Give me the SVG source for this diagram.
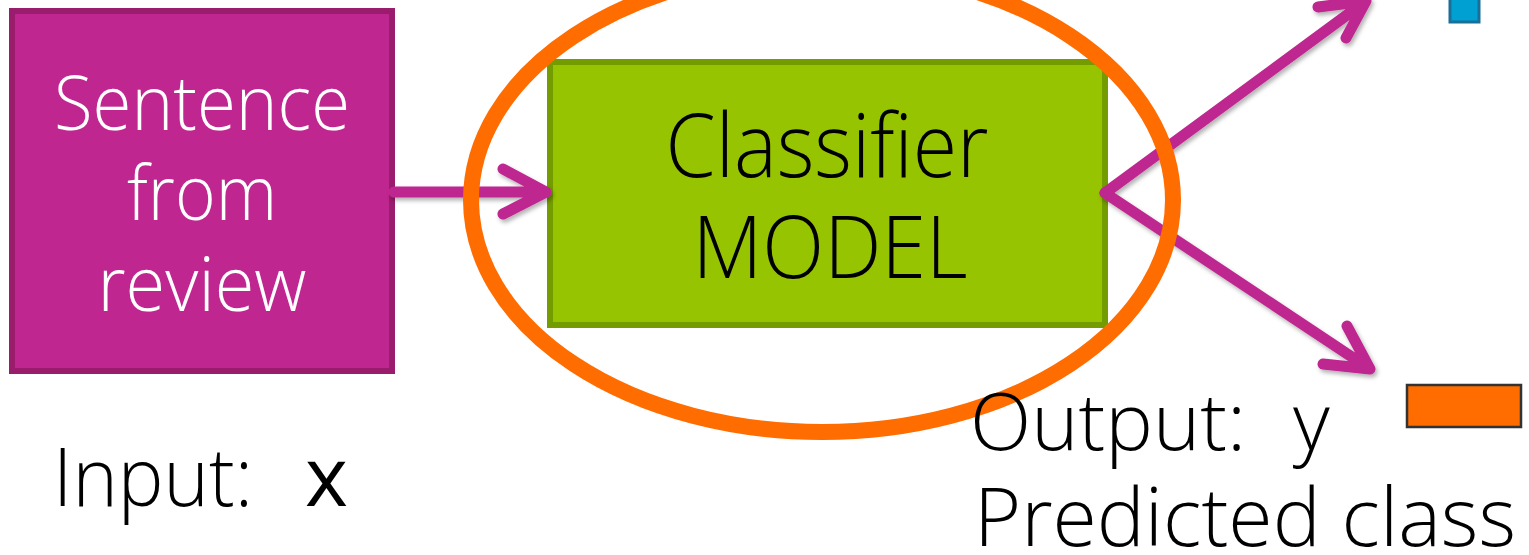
<svg xmlns="http://www.w3.org/2000/svg" width="1529" height="555" viewBox="0 0 1529 555">
<style>
.lbl{font-family:"Open Sans","Noto Sans","Liberation Sans",sans-serif;font-weight:300;}
.wh{fill:#ffffff;}
.bk{fill:#000000;}
.conn{fill:none;stroke:#BE2690;stroke-width:11;stroke-linecap:round;stroke-linejoin:round;}
</style>
<defs>
<filter id="sh" x="-10%" y="-10%" width="120%" height="120%">
<feDropShadow dx="2" dy="3" stdDeviation="2" flood-color="#000" flood-opacity="0.3"/>
</filter>
</defs>
<rect width="1529" height="555" fill="#ffffff"/>

<g id="node-sentence">
<rect x="12" y="11" width="380" height="360" fill="#C0268F" stroke="#9A1C6C" stroke-width="6"/>
<text class="lbl wh" x="202" y="130" font-size="76" text-anchor="middle" textLength="296" lengthAdjust="spacingAndGlyphs">Sentence</text>
<text class="lbl wh" x="202" y="220" font-size="76" text-anchor="middle" textLength="150" lengthAdjust="spacingAndGlyphs">from</text>
<text class="lbl wh" x="202" y="311" font-size="76" text-anchor="middle" textLength="209" lengthAdjust="spacingAndGlyphs">review</text>
</g>

<g id="node-classifier">
<rect x="550" y="62" width="555" height="263" fill="#97C400" stroke="#739C00" stroke-width="6"/>
<text class="lbl bk" x="827" y="177" font-size="88" text-anchor="middle" textLength="323" lengthAdjust="spacingAndGlyphs">Classifier</text>
<text class="lbl bk" x="830" y="278" font-size="86" text-anchor="middle" textLength="275" lengthAdjust="spacingAndGlyphs">MODEL</text>
</g>

<g id="node-class-blue">
<rect x="1450" y="-10" width="29" height="32" fill="#00A0D2" stroke="#1B6E98" stroke-width="3"/>
</g>

<g id="node-class-orange">
<rect x="1407" y="385" width="114" height="42" fill="#FF6C00" stroke="#333333" stroke-width="2.5"/>
</g>

<g id="connectors" filter="url(#sh)">
<path class="conn" d="M394,192 L545,192 M503,169 L546,192 L503,214"/>
<path class="conn" d="M1105,193 L1366,1 M1318,7 L1366,1 L1346,38"/>
<path class="conn" d="M1105,193 L1370,369 M1323,364 L1370,369 L1347,326"/>
</g>

<g id="highlight">
<ellipse cx="822" cy="200" rx="351" ry="232" fill="none" stroke="#FF6C00" stroke-width="16"/>
</g>

<g id="label-input">
<text class="lbl bk" x="53" y="506" font-size="82"><tspan textLength="200" lengthAdjust="spacingAndGlyphs">Input:</tspan><tspan x="305" font-weight="400">x</tspan></text>
</g>

<g id="label-output">
<text class="lbl bk" x="970" y="450" font-size="80"><tspan textLength="276" lengthAdjust="spacingAndGlyphs">Output:</tspan><tspan x="1293">y</tspan></text>
<text class="lbl bk" x="974" y="546" font-size="82" textLength="542" lengthAdjust="spacingAndGlyphs">Predicted class</text>
</g>
</svg>
